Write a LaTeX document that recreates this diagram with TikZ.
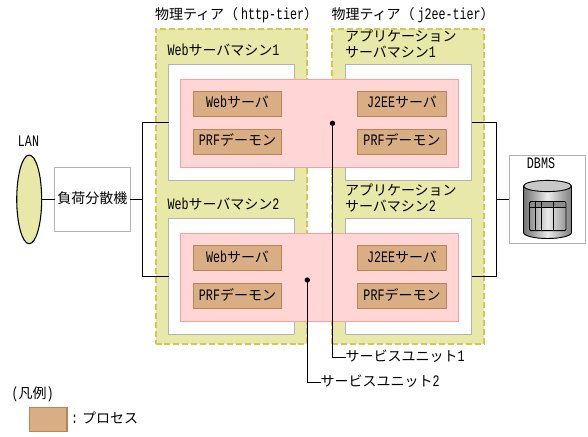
\documentclass[tikz,border=0pt]{standalone}
\usepackage{fontspec}
\setmainfont{Noto Sans CJK JP}
\newfontfamily\latf[FakeStretch=0.73]{Liberation Mono}
\newcommand{\la}[1]{{\fontsize{12pt}{14pt}\latf #1}}
\usetikzlibrary{shapes.geometric}
\definecolor{tierfill}{HTML}{E8E8A8}
\definecolor{tierline}{HTML}{CCCC55}
\definecolor{unitfill}{HTML}{FFD5D5}
\definecolor{unitline}{HTML}{F8A0A0}
\definecolor{procfill}{HTML}{DAAE84}
\definecolor{procline}{HTML}{B98650}
\definecolor{boxline}{HTML}{B4B4B4}
\tikzset{
  x=0.75pt,y=-0.75pt,
  every node/.style={font=\fontsize{10.5pt}{12pt}\selectfont,inner sep=0pt,outer sep=0pt},
  txt/.style={anchor=west,text height=7.5pt,text depth=1.5pt},
  ctxt/.style={text height=7.5pt,text depth=1.5pt},
  tier/.style={draw=tierline,fill=tierfill,line width=1.5pt,dash pattern=on 4.5pt off 2.2pt},
  machine/.style={draw=boxline,fill=white,line width=0.9pt,minimum width=94.5pt,minimum height=86.7pt},
  unit/.style={draw=unitline,fill=unitfill,line width=0.8pt,minimum width=208.5pt,minimum height=66pt},
  proc/.style={draw=procline,fill=procfill,line width=0.8pt,minimum height=19pt},
  wproc/.style={proc,minimum width=66.3pt},
  aproc/.style={proc,minimum width=67pt},
  wire/.style={draw=black,line width=0.8pt},
  gbox/.style={draw=boxline,fill=white,line width=0.9pt},
  spot/.style={circle,fill=black,minimum size=4pt}
}
\begin{document}
\begin{tikzpicture}
\useasboundingbox (0,0) rectangle (588,436);
% tiers
\node[tier,minimum width=113.5pt,minimum height=236.5pt] (tier1) at (231.2,186.2) {};
\node[tier,minimum width=114pt,minimum height=236.5pt] (tier2) at (408,186.2) {};
\node[txt] (t1lab) at (155,15) {物理ティア（\hspace{2.2pt}\la{http-tier}）};
\node[txt] (t2lab) at (331.5,15) {物理ティア（\hspace{2.2pt}\la{j2ee-tier}）};
% machines
\node[machine] (web1) at (231.5,122.6) {};
\node[machine] (web2) at (231.5,276.4) {};
\node[machine] (app1) at (408.7,122.6) {};
\node[machine] (app2) at (408.7,276.4) {};
\node[txt] (w1lab) at (167.5,51) {\la{Web}サーバマシン\la{1}};
\node[txt] (w2lab) at (167.5,205) {\la{Web}サーバマシン\la{2}};
\node[txt] (a1lab) at (345,37) {アプリケーション};
\node[txt] (a1labb) at (345,53) {サーバマシン\la{1}};
\node[txt] (a2lab) at (345,191) {アプリケーション};
\node[txt] (a2labb) at (345,207) {サーバマシン\la{2}};
% service units
\node[unit] (unit1) at (319.7,123.3) {};
\node[unit] (unit2) at (319.7,277.3) {};
% processes
\node[wproc,ctxt] (p1) at (237.5,103.8) {\la{Web}サーバ};
\node[wproc,ctxt] (p2) at (237.5,141.8) {\la{PRF}デーモン};
\node[aproc,ctxt] (p3) at (402,103.8) {\la{J2EE}サーバ};
\node[aproc,ctxt] (p4) at (402,141.8) {\la{PRF}デーモン};
\node[wproc,ctxt] (p5) at (237.5,258) {\la{Web}サーバ};
\node[wproc,ctxt] (p6) at (237.5,296) {\la{PRF}デーモン};
\node[aproc,ctxt] (p7) at (402,258) {\la{J2EE}サーバ};
\node[aproc,ctxt] (p8) at (402,296) {\la{PRF}デーモン};
% LAN
\node[draw=black,fill=tierfill,line width=0.8pt,ellipse,minimum width=18.7pt,minimum height=66.5pt] (lan) at (29.2,199.4) {};
\node[ctxt] (lanlab) at (28.5,142) {\la{LAN}};
% load balancer
\node[gbox,minimum width=56.8pt,minimum height=47.7pt,ctxt] (lb) at (92.4,199.4) {負荷分散機};
% DBMS
\node[gbox,minimum width=57.3pt,minimum height=66pt] (dbms) at (547.5,199.4) {};
\node[ctxt] (dblab) at (541,164) {\la{DBMS}};
\shade[left color=black!55,right color=black!50,middle color=black!8,shading angle=90]
  (523.5,186) -- (523.5,232.5) arc[start angle=180,end angle=360,x radius=24,y radius=-6] -- (571.5,186) -- cycle;
\draw[line width=0.7pt] (523.5,186) -- (523.5,232.5) arc[start angle=180,end angle=360,x radius=24,y radius=-6] -- (571.5,186);
\draw[line width=0.7pt,fill=black!22] (547.5,186) ellipse[x radius=24,y radius=5.6];
\fill[black!45,rounded corners=1pt] (529.5,201.5) rectangle (566,207.7);
\draw[line width=0.7pt,rounded corners=1pt] (529.5,201.5) rectangle (566,230.7);
\draw[line width=0.7pt] (529.5,207.7) -- (566,207.7) (535.5,201.5) -- (535.5,230.7) (541.3,201.5) -- (541.3,230.7) (553.5,201.5) -- (553.5,230.7);
% connectors
\coordinate (busl) at (142.5,199.4);
\coordinate (busr) at (496.3,199.4);
\draw[wire] (lan.east) -- (lb.west);
\draw[wire] (lb.east) -- (busl);
\draw[wire] (web1.west) -| (busl);
\draw[wire] (web2.west) -| (busl);
\draw[wire] (app1.east) -| (busr);
\draw[wire] (app2.east) -| (busr);
\draw[wire] (dbms.west) -- (busr);
% leaders
\node[spot] (d1) at (332.5,123.3) {};
\node[spot] (d2) at (307.3,280) {};
\node[txt] (su1) at (345.5,357.5) {サービスユニット\la{1}};
\node[txt] (su2) at (320.5,382.5) {サービスユニット\la{2}};
\draw[wire] (d1.center) |- (su1.west);
\draw[wire] (d2.center) |- (su2.west);
% legend
\node[txt] (leg) at (11.5,394) {\la{(}凡例\la{)}};
\node[proc,minimum width=28pt,minimum height=18.2pt] (swatch) at (48.3,419.8) {};
\node[txt] (legt) at (71,419) {\la{:}\hspace{3pt}プロセス};
\end{tikzpicture}
\end{document}
